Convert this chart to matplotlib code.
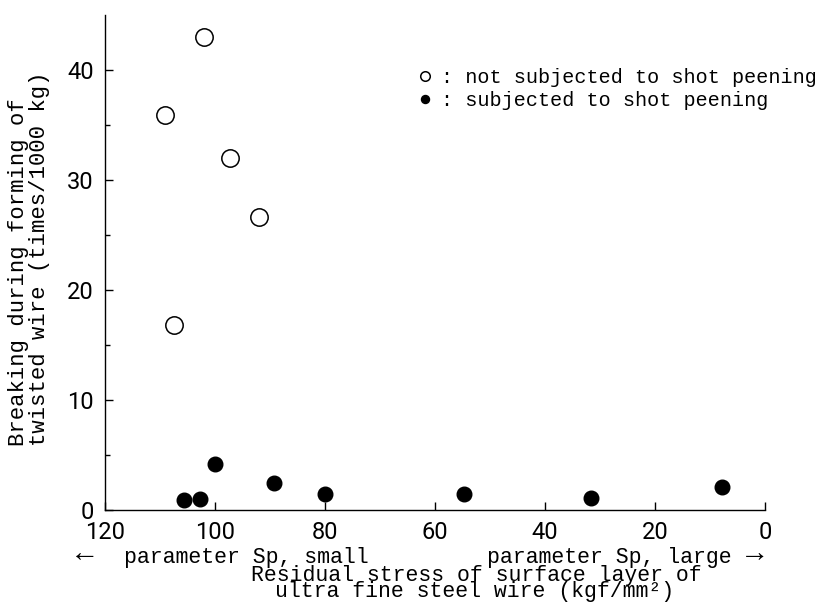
import numpy as np
import matplotlib
matplotlib.use('Agg')
import matplotlib.pyplot as plt

# residual stress (kgf/mm2) vs breaking (times/1000 kg)
x_no_peen = [102.0, 109.1, 97.3, 92.0, 107.5]
y_no_peen = [43.0, 35.9, 32.0, 26.6, 16.8]

x_peen = [105.6, 102.7, 100.0, 89.3, 80.0, 54.7, 31.6, 7.8]
y_peen = [0.9, 1.0, 4.2, 2.5, 1.5, 1.5, 1.1, 2.1]

x_ticks = [120, 100, 80, 60, 40, 20, 0]
y_ticks = [0, 10, 20, 30, 40]
y_minor = [5, 15, 25, 35]

mono = ['Liberation Mono', 'DejaVu Sans Mono']
tickfont = {'family': 'Roboto', 'weight': 'normal', 'size': 17, 'color': 'black'}

fig = plt.figure(figsize=(8.21, 6.08), dpi=100)
ax = fig.add_axes([105 / 821, 98 / 608, 660 / 821, 495 / 608])

l1, = ax.plot(x_no_peen, y_no_peen, 'o', ms=12.5, mfc='white', mec='black',
              mew=1.1, linestyle='none', label=': not subjected to shot peening')
l2, = ax.plot(x_peen, y_peen, 'o', ms=10.5, mfc='black', mec='black',
              linestyle='none', label=': subjected to shot peening')

ax.set_xlim(120, 0)
ax.set_ylim(0, 45)
ax.set_xticks(x_ticks)
ax.set_yticks(y_ticks)
ax.set_yticks(y_minor, minor=True)
ax.set_xticklabels([str(v) for v in x_ticks], fontdict=tickfont)
ax.set_yticklabels([str(v) for v in y_ticks], fontdict=tickfont)
ax.tick_params(axis='both', which='major', direction='in', length=5.5, width=1.0, pad=8)
ax.tick_params(axis='y', which='minor', direction='in', length=3.5, width=1.0)

for s in ['top', 'right']:
    ax.spines[s].set_visible(False)
for s in ['left', 'bottom']:
    ax.spines[s].set_linewidth(1.0)

leg = ax.legend(handles=[l1, l2], loc='upper left',
                bbox_to_anchor=(417 / 821, (608 - 68) / 608),
                bbox_transform=fig.transFigure, frameon=False,
                prop={'family': mono, 'size': 14.5}, markerscale=0.55,
                handlelength=0.8, handletextpad=0.4, labelspacing=0.2,
                borderpad=0, borderaxespad=0)

# y label, two lines
fig.text(19 / 821, (608 - 446) / 608, 'Breaking during forming of', rotation=90,
         ha='center', va='bottom', family=mono, fontsize=16)
fig.text(40 / 821, (608 - 446) / 608, 'twisted wire (times/1000 kg)', rotation=90,
         ha='center', va='bottom', family=mono, fontsize=16)

# x label, three lines
fig.text(76 / 821, (608 - 553) / 608, '←', ha='left', va='center',
         family=mono, fontsize=21)
fig.text(124 / 821, (608 - 557) / 608, 'parameter Sp, small', ha='left', va='center',
         family=mono, fontsize=15.5)
fig.text(487 / 821, (608 - 557) / 608, 'parameter Sp, large', ha='left', va='center',
         family=mono, fontsize=15.5)
fig.text(746 / 821, (608 - 553) / 608, '→', ha='left', va='center',
         family=mono, fontsize=21)
fig.text(476 / 821, (608 - 575) / 608, 'Residual stress of surface layer of',
         ha='center', va='center', family=mono, fontsize=15.5)
fig.text(475 / 821, (608 - 592) / 608, 'ultra fine steel wire (kgf/mm²)',
         ha='center', va='center', family=mono, fontsize=15.5)

fig.savefig('out.png', dpi=100)
